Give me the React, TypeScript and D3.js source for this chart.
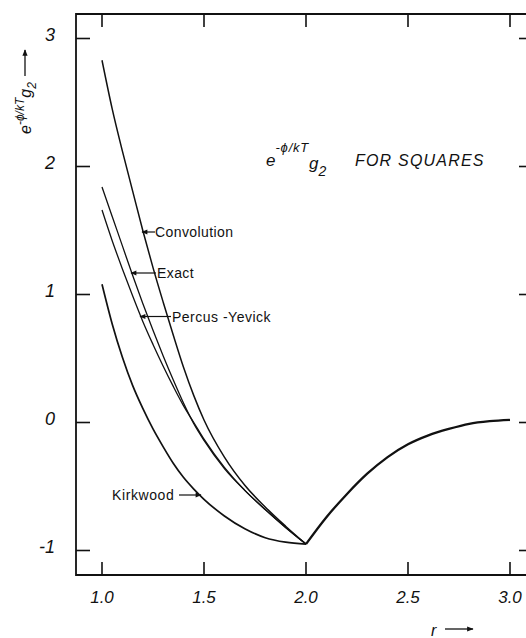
import React from "react";
import * as d3 from "d3";

// r values sampled for the branches between contact (r = 1) and r = 2
const rInner = [1.0, 1.05, 1.1, 1.15, 1.2, 1.25, 1.3, 1.35, 1.4, 1.45, 1.5, 1.6, 1.7, 1.8, 1.9, 2.0];
const convolution = [2.83, 2.45, 2.12, 1.81, 1.5, 1.21, 0.94, 0.68, 0.43, 0.21, 0.02, -0.27, -0.49, -0.66, -0.81, -0.95];
const exact = [1.84, 1.61, 1.38, 1.15, 0.93, 0.72, 0.52, 0.33, 0.15, -0.01, -0.14, -0.36, -0.53, -0.68, -0.82, -0.95];
const percusYevick = [1.66, 1.42, 1.2, 0.99, 0.79, 0.61, 0.44, 0.28, 0.13, 0.0, -0.13, -0.35, -0.53, -0.68, -0.82, -0.95];
const kirkwood = [1.08, 0.77, 0.51, 0.29, 0.11, -0.05, -0.19, -0.32, -0.43, -0.52, -0.6, -0.73, -0.83, -0.9, -0.935, -0.95];

// common branch between r = 2 and r = 3
const rOuter = [2.0, 2.1, 2.2, 2.3, 2.4, 2.5, 2.6, 2.7, 2.8, 2.9, 3.0];
const outer = [-0.95, -0.74, -0.56, -0.4, -0.27, -0.17, -0.1, -0.05, -0.01, 0.01, 0.02];

const xTicks = [1.0, 1.5, 2.0, 2.5, 3.0];
const xTickLabels = ["1.0", "1.5", "2.0", "2.5", "3.0"];
const yTicks = [3, 2, 1, 0, -1];
const yTickLabels = ["3", "2", "1", "0", "-1"];

const W = 526;
const H = 638;
const frame = { left: 76, top: 14, bottom: 575, right: 527 };

const x = d3.scaleLinear().domain([1, 3]).range([102, 510]);
const y = d3.scaleLinear().domain([-1, 3]).range([550.5, 38.5]);

const line = d3
  .line<[number, number]>()
  .x((d) => x(d[0]))
  .y((d) => y(d[1]))
  .curve(d3.curveMonotoneX);

const pts = (rs: number[], vs: number[]) => rs.map((r, i) => [r, vs[i]] as [number, number]);

const tickFont = "'Liberation Sans', Arial, sans-serif";
const ink = "#111";

export default function App() {
  return (
    <svg
      width={W}
      height={H}
      viewBox={`0 0 ${W} ${H}`}
      style={{ position: "absolute", left: 0, top: 0, background: "#fff" }}
    >
      <defs>
        <marker id="head" viewBox="0 0 10 10" refX="9" refY="5" markerWidth="6" markerHeight="5" orient="auto-start-reverse">
          <path d="M0,1 L10,5 L0,9 z" fill={ink} />
        </marker>
      </defs>

      {/* frame */}
      <path
        d={`M${frame.right},${frame.top} L${frame.left},${frame.top} L${frame.left},${frame.bottom} L${frame.right},${frame.bottom}`}
        fill="none"
        stroke={ink}
        strokeWidth={1.8}
      />

      {/* ticks */}
      {xTicks.map((t) => (
        <g key={"xt" + t}>
          <line x1={x(t)} x2={x(t)} y1={frame.bottom} y2={frame.bottom - 13} stroke={ink} strokeWidth={1.6} />
          <line x1={x(t)} x2={x(t)} y1={frame.top} y2={frame.top + 13} stroke={ink} strokeWidth={1.6} />
        </g>
      ))}
      {yTicks.map((t) => (
        <g key={"yt" + t}>
          <line x1={frame.left} x2={frame.left + 14} y1={y(t)} y2={y(t)} stroke={ink} strokeWidth={1.6} />
          <line x1={frame.right - 8} x2={frame.right} y1={y(t)} y2={y(t)} stroke={ink} strokeWidth={1.6} />
        </g>
      ))}

      {/* tick labels */}
      {xTicks.map((t, i) => (
        <text
          key={"xl" + t}
          x={x(t)}
          y={597}
          textAnchor="middle"
          dominantBaseline="central"
          fontFamily={tickFont}
          fontStyle="italic"
          fontSize={17}
          fill={ink}
        >
          {xTickLabels[i]}
        </text>
      ))}
      {yTicks.map((t, i) => (
        <text
          key={"yl" + t}
          x={55}
          y={y(t) - 4}
          textAnchor="end"
          dominantBaseline="central"
          fontFamily={tickFont}
          fontStyle="italic"
          fontSize={18}
          fill={ink}
        >
          {yTickLabels[i]}
        </text>
      ))}

      {/* axis titles */}
      <text x={431} y={636} fontFamily={tickFont} fontStyle="italic" fontSize={16} fill={ink}>
        r
      </text>
      <line x1={445} x2={473} y1={629} y2={629} stroke={ink} strokeWidth={1.3} markerEnd="url(#head)" />

      <text
        transform="translate(31,134) rotate(-90)"
        fontFamily={tickFont}
        fontStyle="italic"
        fontSize={16}
        fill={ink}
      >
        <tspan>e</tspan>
        <tspan dy={-7} fontSize={12}>-ϕ/kT</tspan>
        <tspan dy={7}>g</tspan>
        <tspan dy={5} fontSize={12}>2</tspan>
      </text>
      <line x1={25} x2={25} y1={76} y2={50} stroke={ink} strokeWidth={1.3} markerEnd="url(#head)" />

      {/* curves */}
      <path d={line(pts(rInner, convolution)) ?? ""} fill="none" stroke={ink} strokeWidth={1.5} />
      <path d={line(pts(rInner, exact)) ?? ""} fill="none" stroke={ink} strokeWidth={1.3} />
      <path d={line(pts(rInner, percusYevick)) ?? ""} fill="none" stroke={ink} strokeWidth={1.3} />
      <path d={line(pts(rInner, kirkwood)) ?? ""} fill="none" stroke={ink} strokeWidth={1.7} />
      <path d={line(pts(rOuter, outer)) ?? ""} fill="none" stroke={ink} strokeWidth={2.3} />

      {/* curve labels */}
      <g fontFamily={tickFont} fontSize={14} fill={ink}>
        <line x1={155} x2={142} y1={232} y2={232} stroke={ink} strokeWidth={1.2} markerEnd="url(#head)" />
        <text x={155} y={232} dominantBaseline="central" letterSpacing={0.4}>
          Convolution
        </text>

        <line x1={156} x2={131} y1={273} y2={273} stroke={ink} strokeWidth={1.2} markerEnd="url(#head)" />
        <text x={157} y={273} dominantBaseline="central" letterSpacing={0.4}>
          Exact
        </text>

        <line x1={171} x2={140} y1={316.5} y2={316.5} stroke={ink} strokeWidth={1.2} markerEnd="url(#head)" />
        <text x={172} y={316.5} dominantBaseline="central" letterSpacing={0.5}>
          Percus -Yevick
        </text>

        <text x={112} y={495} dominantBaseline="central" letterSpacing={0.6}>
          Kirkwood
        </text>
        <line x1={179} x2={201} y1={495} y2={495} stroke={ink} strokeWidth={1.2} markerEnd="url(#head)" />
      </g>

      {/* in-plot title */}
      <text fontFamily={tickFont} fontStyle="italic" fill={ink}>
        <tspan x={266} y={166} fontSize={17}>e</tspan>
        <tspan dy={-14} fontSize={13} letterSpacing={0.8}>-ϕ/kT</tspan>
        <tspan dy={17} fontSize={17}>g</tspan>
        <tspan dy={7} fontSize={14}>2</tspan>
        <tspan x={355} y={166} fontSize={16} letterSpacing={1.2}>
          FOR  SQUARES
        </tspan>
      </text>
    </svg>
  );
}
